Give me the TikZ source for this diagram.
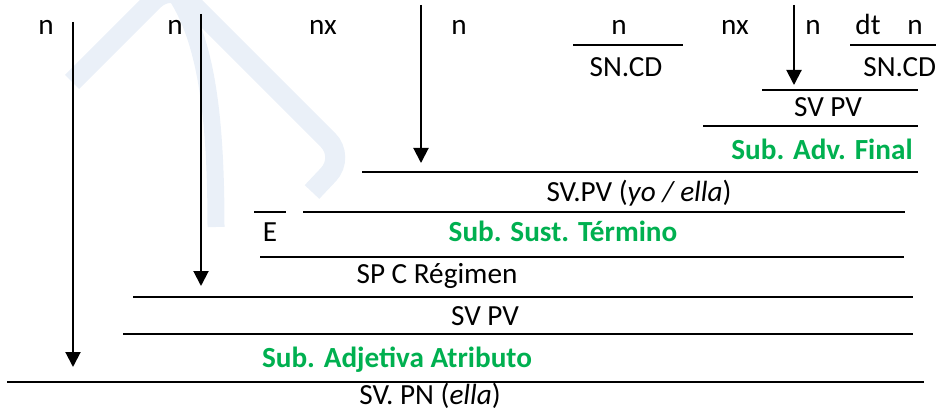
\documentclass[tikz,border=0pt]{standalone}
\usepackage{fontspec}
\setmainfont{Carlito}
\usetikzlibrary{arrows.meta}
\definecolor{subgreen}{HTML}{00B050}
\definecolor{markblue}{HTML}{EAF0F8}
\newcommand{\diagfont}{\fontsize{14.6}{17}\selectfont}
\tikzset{lbl/.style={anchor=base,inner sep=0pt},
  sub/.style={lbl,text=subgreen,font=\diagfont\bfseries},
  rule/.style={line width=1pt},
  arr/.style={line width=1pt,-{Triangle[width=7.5pt,length=7.5pt]}}}

\begin{document}
\begin{tikzpicture}[x=0.5pt,y=-0.5pt,font=\diagfont]
\useasboundingbox (0,0) rectangle (936,411);
% watermark
\begin{scope}
\clip (0,0) rectangle (936,411);
\draw[markblue,line width=10pt,rounded corners=12pt] (72,82) -- (171,-17) -- (345,157) -- (312,192);
\draw[markblue,line width=8.5pt] (176,-5) .. controls (205,40) and (216,110) .. (216,227);
\end{scope}

% top row
\node[lbl] (n1) at (46,35) {n};
\node[lbl] (n2) at (175,35) {n};
\node[lbl] (nx1) at (323,35) {nx};
\node[lbl] (n3) at (459,35) {n};
\node[lbl] (n4) at (619,35) {n};
\node[lbl] (nx2) at (735,35) {nx};
\node[lbl] (n5) at (813,35) {n};
\node[lbl] (dt) at (868,35) {dt};
\node[lbl] (n6) at (915,35) {n};

% groups
\draw[rule] (573,45) -- (683,45);
\draw[rule] (850,45) -- (936,45);
\node[lbl] (sncd1) at (626,77) {SN.CD};
\node[lbl,anchor=base west] (sncd2) at (863,77) {SN.CD};
\draw[rule] (762,90) -- (918,90);
\node[lbl] (svpv1) at (828,117) {SV PV};
\draw[rule] (703,126) -- (918,126);
\node[sub,anchor=base east] (advfin) at (913,160) {Sub. Adv. Final};
\draw[rule] (362,172) -- (918,172);
\node[lbl] (svpv2) at (639,202) {SV.PV (\textit{yo / ella})};
\draw[rule] (254,212) -- (286,212);
\draw[rule] (303,212) -- (905,212);
\node[lbl] (e) at (270,242) {E};
\node[sub] (susterm) at (563,242) {Sub. Sust. Término};
\draw[rule] (260,257) -- (904,257);
\node[lbl] (spcr) at (437,283) {SP C Régimen};
\draw[rule] (133,297) -- (913,297);
\node[lbl] (svpv3) at (485,325) {SV PV};
\draw[rule] (123,334) -- (913,334);
\node[sub] (adjatr) at (397,367) {Sub. Adjetiva Atributo};
\draw[rule] (7,382) -- (924,382);
\node[lbl] (svpn) at (430,404) {SV. PN (\textit{ella})};

% arrows
\coordinate (a1) at (73,22);   \coordinate (b1) at (73,367);
\coordinate (a2) at (201,14);  \coordinate (b2) at (201,286);
\coordinate (a3) at (421,5);   \coordinate (b3) at (421,163);
\coordinate (a4) at (794,5);   \coordinate (b4) at (794,85);
\foreach \i in {1,...,4} \draw[arr] (a\i) -- (b\i);
\end{tikzpicture}
\end{document}
